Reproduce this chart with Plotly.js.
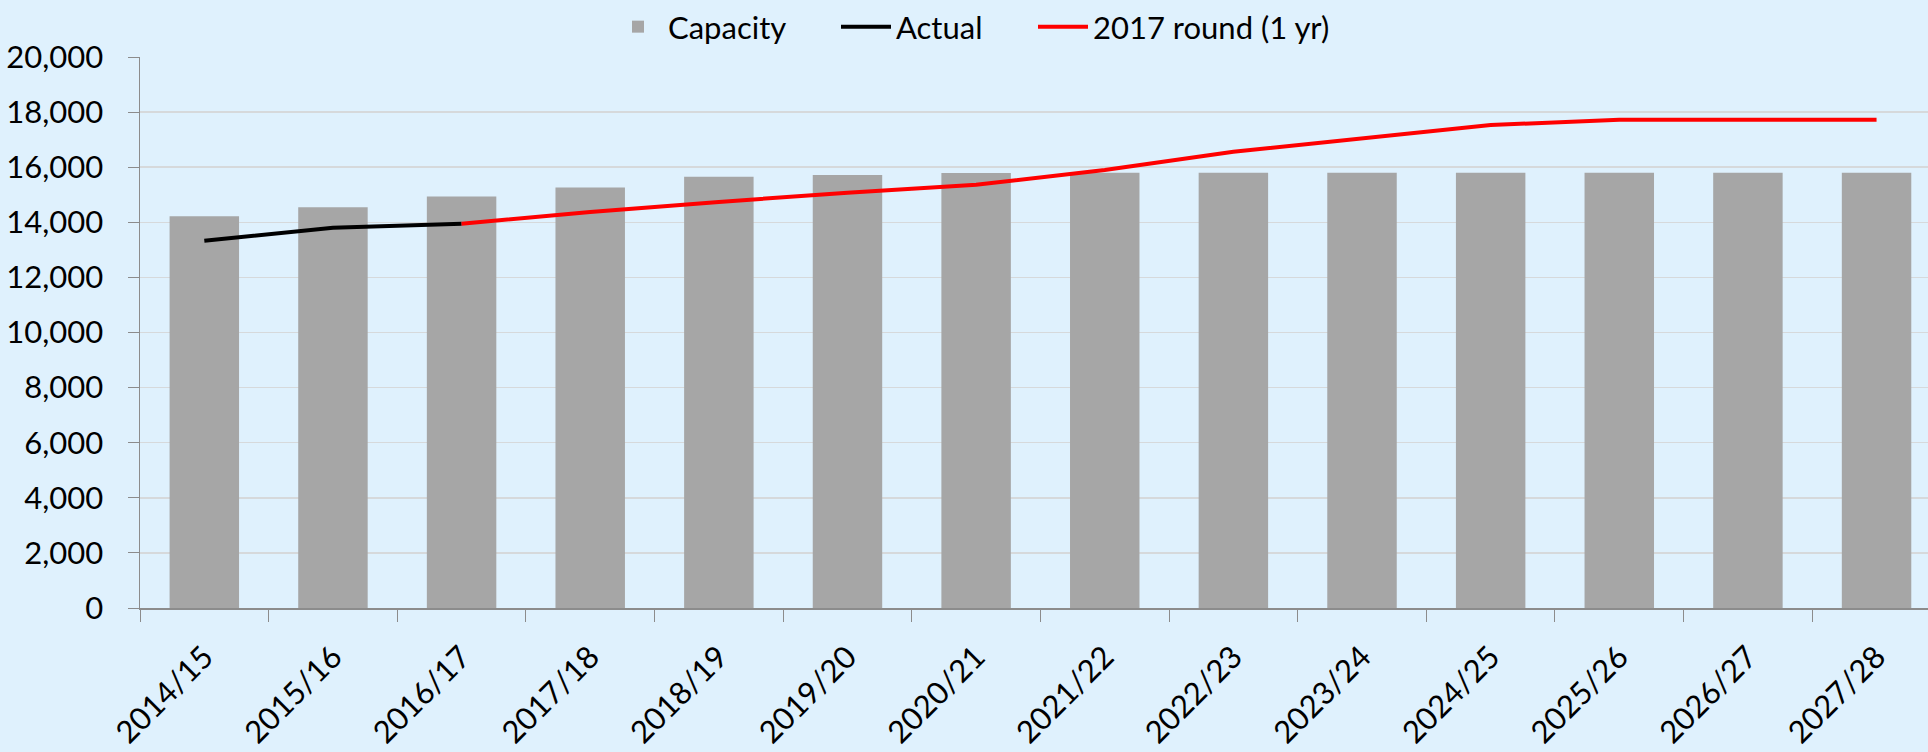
<!DOCTYPE html>
<html>
<head>
<meta charset="utf-8">
<script src="https://cdn.plot.ly/plotly-3.0.1.min.js"></script>
<style>html,body{margin:0;padding:0;background:#DFF1FD;}#chart{width:1928px;height:752px;}</style>
</head>
<body>
<div id="chart"></div>
<script>
const years = ["2014/15","2015/16","2016/17","2017/18","2018/19","2019/20","2020/21","2021/22","2022/23","2023/24","2024/25","2025/26","2026/27","2027/28"];
const capacity = [14220, 14550, 14940, 15260, 15650, 15720, 15790, 15800, 15800, 15800, 15800, 15800, 15800, 15800];
const actual = [13330, 13800, 13950, null, null, null, null, null, null, null, null, null, null, null];
const round2017 = [null, null, 13950, 14370, 14740, 15070, 15360, 15900, 16560, 17050, 17530, 17720, 17720, 17720];
const yTicks = [0, 2000, 4000, 6000, 8000, 10000, 12000, 14000, 16000, 18000, 20000];

const fontFam = "Lato, 'Open Sans', sans-serif";
const traces = [
  {type: "bar", name: "Capacity", x: years, y: capacity, marker: {color: "#A6A6A6"}, width: 0.54, legend: "legend"},
  {type: "scatter", mode: "lines", name: "Actual", x: years, y: actual, line: {color: "#000000", width: 4}, connectgaps: false, legend: "legend2"},
  {type: "scatter", mode: "lines", name: "2017 round (1 yr)", x: years, y: round2017, line: {color: "#FF0000", width: 4}, connectgaps: false, legend: "legend3"}
];
function leg(px) {
  return {orientation: "h", xref: "container", yref: "container", x: px / 1928, xanchor: "left", y: 1 - 27 / 752, yanchor: "middle",
          font: {size: 31}, bgcolor: "rgba(0,0,0,0)", itemwidth: 50};
}
const layout = {
  width: 1928, height: 752,
  paper_bgcolor: "#DFF1FD", plot_bgcolor: "#DFF1FD",
  margin: {l: 140, r: 0, t: 57, b: 144},
  font: {family: fontFam, size: 31, color: "#000000"},
  showlegend: true,
  legend: leg(608),
  legend2: leg(836),
  legend3: leg(1033),
  xaxis: {
    type: "category", range: [-0.5, 13.4], tickangle: -45,
    showline: true, linecolor: "#8C8C8C", linewidth: 1.5,
    ticks: "outside", ticklen: 12, tickcolor: "#8C8C8C", tickson: "boundaries",
    showgrid: false, tickfont: {size: 31}, ticklabelstandoff: 17
  },
  yaxis: {
    range: [0, 20000], tickvals: yTicks, tickformat: ",d",
    showline: true, linecolor: "#8C8C8C", linewidth: 1.5,
    ticks: "outside", ticklen: 11, tickcolor: "#8C8C8C",
    showgrid: true, gridcolor: "#D6D9DB", gridwidth: 1.5,
    zeroline: false, tickfont: {size: 31}, ticklabelstandoff: 18
  },
  bargap: 0.46
};
Plotly.newPlot("chart", traces, layout, {displayModeBar: false, staticPlot: true});
</script>
</body>
</html>
